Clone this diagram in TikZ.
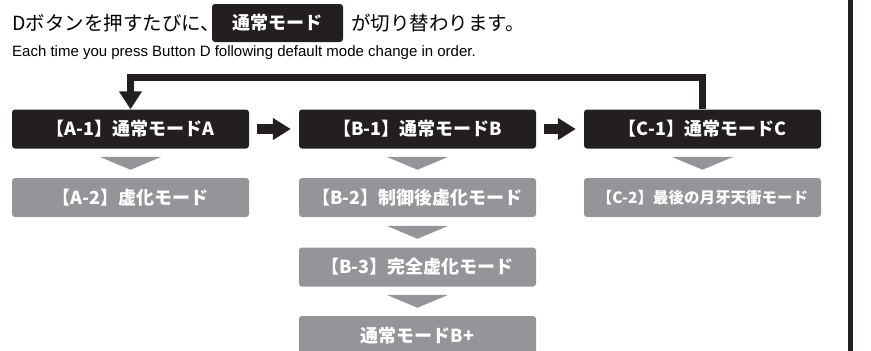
\documentclass[tikz,border=0pt]{standalone}
\usepackage{fontspec}
\setmainfont{Noto Sans CJK JP}
\newfontfamily\latinfont{Liberation Sans}
\usetikzlibrary{positioning,arrows.meta,calc}
\definecolor{boxblack}{HTML}{231F20}
\definecolor{boxgray}{HTML}{939598}
\newcommand{\downtri}[2]{\fill[down] ($(#1.south)!0.5!(#2.north)$) +(-31,-6.5) -- +(31,-6.5) -- +(0,6.5) -- cycle;}

\begin{document}
\begin{tikzpicture}[
      x=1pt,y=-1pt,
      mode/.style={fill=boxblack,rounded corners=3pt,minimum width=237pt,minimum height=39pt,inner sep=0pt,text=white,font=\fontsize{18}{18}\selectfont\bfseries},
      sub/.style={mode,fill=boxgray},
      badge/.style={mode,minimum width=131pt,minimum height=38pt},
      plain/.style={anchor=west,inner sep=0pt,font=\fontsize{19.5}{19.5}\selectfont},
      next/.style={draw=boxblack,line width=10pt,-{Triangle[length=18pt,width=21pt]},shorten >=8pt,shorten <=8pt},
      loopline/.style={draw=boxblack,line width=7.5pt,-{Triangle[length=18pt,width=22pt]}},
      down/.style={fill=boxgray}
    ]
    \useasboundingbox (0,0) rectangle (871,351);
    % Heading line with the badge.
    \node[plain] (head) at (12,23) {Dボタンを押すたびに、};
    \node[badge] (tag) at (277.5,23) {通常モード};
    \node[plain] (tail) at (351,23) {が切り替わります。};
    \node[plain,font=\latinfont\fontsize{15}{15}\selectfont] (english) at (12,53) {Each time you press Button D following default mode change in order.};
    % Draw the normal modes.
    \node[mode] (a1) at (130.5,129) {【A-1】通常モードA};
    \node[mode] (b1) at (417.5,129) {【B-1】通常モードB};
    \node[mode] (c1) at (702.5,129) {【C-1】通常モードC};
    % Draw the derived modes.
    \node[sub] (a2) at (130.5,197.5) {【A-2】虚化モード};
    \node[sub] (b2) at (417.5,197.5) {【B-2】制御後虚化モード};
    \node[sub,font=\fontsize{15.5}{15.5}\selectfont\bfseries] (c2) at (702.5,197.5) {【C-2】最後の月牙天衝モード};
    \node[sub] (b3) at (417.5,267) {【B-3】完全虚化モード};
    \node[sub] (b4) at (417.5,335.5) {通常モードB+};
    % Draw the transitions.
    \draw[next] (a1) -- (b1);
    \draw[next] (b1) -- (c1);
    \draw[loopline] (c1.north) -- ++(0,-32) -| (a1.north);
    \downtri{a1}{a2}
    \downtri{b1}{b2}
    \downtri{c1}{c2}
    \downtri{b2}{b3}
    \downtri{b3}{b4}
    % Divider on the right.
    \draw[boxblack,line width=4.5pt] (850.5,0) -- (850.5,351);
\end{tikzpicture}
\end{document}
